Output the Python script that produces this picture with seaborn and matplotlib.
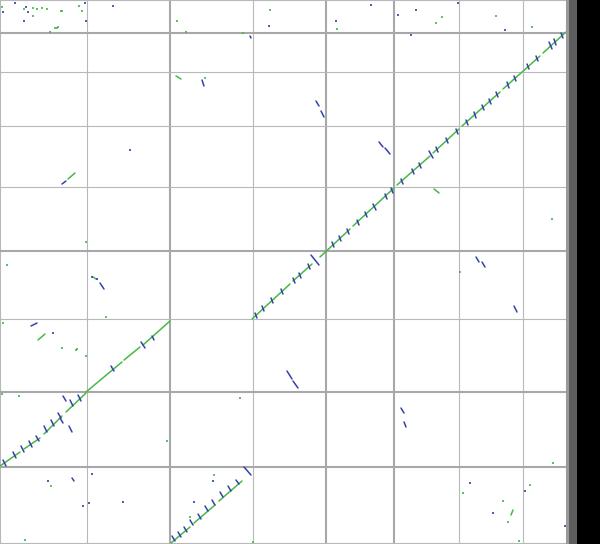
import pandas as pd
import matplotlib
matplotlib.use("Agg")
import matplotlib.pyplot as plt
import seaborn as sns

## sequence boundaries (plot units), query on x, target on y (top = 0)
x_bounds = [0, 86.5, 170, 252.5, 326, 394, 459, 523, 566]
y_bounds = [0, 32.5, 72, 126, 187, 251, 319, 392, 467, 543]
x_thick = [170, 326, 394]
y_thick = [32.5, 251, 392, 467]

## forward alignments (x0, y0, x1, y1)
fwd_segments = [
    # block in first column
    (0, 466, 20, 452), (24, 449, 40, 438), (44, 434, 62, 416), (66, 412, 86, 393),
    # second column diagonal
    (86, 392, 122, 362), (124, 360, 140, 347), (143, 345, 170, 321),
    # third column, bottom row
    (171, 543, 190, 527), (194, 523, 215, 505), (219, 501, 242, 481),
    # long main diagonal
    (252, 319, 290, 284), (293, 281, 312, 264), (320, 257, 350, 229),
    (353, 226, 394, 188), (397, 185, 430, 156), (433, 153, 459, 129),
    (462, 126, 500, 92), (503, 89, 540, 56), (543, 53, 566, 32),
    # small off-diagonal pieces
    (68, 179, 75, 173), (38, 340, 45, 334), (93, 277, 96, 279),
    (434, 189, 439, 193), (511, 515, 513, 510), (176, 76, 181, 79),
]

## reverse alignments (x0, y0, x1, y1)
rev_segments = [
    # ticks on first column block
    (3, 460, 6, 466), (13, 452, 16, 458), (21, 446, 24, 452), (29, 441, 32, 447),
    (36, 436, 39, 441), (44, 426, 47, 432), (51, 420, 54, 426), (58, 413, 61, 418),
    (63, 396, 66, 401), (70, 400, 73, 406), (78, 395, 81, 401),
    (60, 418, 63, 423), (69, 426, 72, 432),
    # ticks on second column diagonal
    (111, 366, 114, 371), (141, 342, 145, 348), (152, 336, 154, 340),
    # ticks on bottom diagonal
    (172, 536, 175, 541), (178, 532, 181, 537), (184, 527, 187, 532),
    (190, 520, 193, 525), (198, 514, 201, 519), (205, 506, 208, 511),
    (212, 500, 215, 505), (220, 492, 223, 497), (228, 486, 231, 491),
    (236, 480, 239, 484), (244, 467, 251, 475),
    # ticks on main diagonal
    (255, 313, 257, 318), (262, 306, 264, 311), (271, 298, 273, 303),
    (281, 289, 283, 294), (293, 278, 295, 283), (299, 273, 301, 278),
    (308, 264, 310, 269), (311, 255, 319, 265), (332, 242, 334, 247),
    (339, 236, 341, 241), (347, 229, 349, 234), (357, 220, 359, 225),
    (365, 212, 367, 217), (373, 204, 376, 210), (385, 194, 387, 199),
    (391, 188, 393, 193), (401, 179, 403, 184), (412, 169, 414, 174),
    (419, 163, 421, 168), (429, 151, 433, 158), (436, 147, 438, 152),
    (446, 138, 448, 143), (456, 129, 458, 134), (466, 120, 468, 125),
    (474, 112, 476, 118), (482, 105, 484, 110), (489, 99, 491, 104),
    (496, 92, 498, 97), (507, 82, 509, 88), (514, 76, 516, 81),
    (527, 64, 529, 69), (536, 56, 538, 61), (549, 42, 552, 49),
    (554, 39, 556, 45), (561, 33, 563, 38),
    # off-diagonal
    (287, 371, 292, 379), (293, 381, 298, 388), (379, 142, 383, 147),
    (385, 148, 390, 154), (316, 101, 319, 106), (321, 111, 324, 117),
    (476, 257, 479, 262), (482, 262, 485, 267), (514, 306, 517, 312),
    (62, 184, 66, 181), (100, 283, 104, 289), (202, 80, 204, 86),
    (401, 408, 404, 413), (404, 422, 406, 427), (72, 478, 74, 481),
    (250, 36, 251, 38), (31, 326, 37, 323),
]

## isolated hits
fwd_dots_x = [2, 33, 37, 42, 47, 24, 33, 62, 79, 82, 55, 58, 50, 57, 61, 177, 186, 243, 270,
              337, 436, 442, 496, 532, 7, 3, 62, 77, 86, 86, 2, 19, 106, 76, 240, 463, 503,
              508, 530, 553, 519, 51, 25, 190, 214, 167, 205, 460, 552, 253]
fwd_dots_y = [7, 8, 9, 8, 9, 9, 16, 11, 6, 11, 28, 27, 32, 28, 11, 21, 32, 33, 10,
              29, 23, 17, 16, 27, 265, 323, 348, 349, 356, 242, 394, 396, 317, 350, 398, 493, 501,
              522, 485, 463, 541, 486, 540, 517, 475, 441, 78, 272, 219, 542]
rev_dots_x = [15, 3, 26, 28, 85, 24, 86, 113, 269, 371, 398, 416, 505, 458, 336, 411, 130,
              53, 97, 48, 92, 89, 83, 123, 470, 493, 525, 565, 213, 194, 92]
rev_dots_y = [3, 12, 7, 12, 3, 21, 21, 6, 26, 5, 15, 10, 30, 3, 21, 35, 150,
              333, 279, 481, 474, 503, 506, 502, 483, 513, 491, 526, 481, 502, 277]

## build long tables for seaborn
rows = []
for strand, segs in (("fwd", fwd_segments), ("rev", rev_segments)):
    for i, (x0, y0, x1, y1) in enumerate(segs):
        rows.append({"seg": f"{strand}{i}", "strand": strand, "x": x0, "y": y0})
        rows.append({"seg": f"{strand}{i}", "strand": strand, "x": x1, "y": y1})
seg_df = pd.DataFrame(rows)

dots_df = pd.concat([
    pd.DataFrame({"x": fwd_dots_x, "y": fwd_dots_y, "strand": "fwd"}),
    pd.DataFrame({"x": rev_dots_x, "y": rev_dots_y, "strand": "rev"}),
])

palette = {"fwd": "#45b845", "rev": "#3442a8"}

sns.set_theme(style="white")
fig = plt.figure(figsize=(6, 5.44), dpi=100)
ax = fig.add_axes([0, 0, 1, 1])
ax.set_facecolor("white")

# grid of sequence boundaries
for xb in x_bounds:
    thick = xb in x_thick
    ax.axvline(xb, color="#a8a8a8" if thick else "#b8b8b8", lw=1.5 if thick else 0.8, zorder=1)
for yb in y_bounds:
    thick = yb in y_thick
    ax.axhline(yb, color="#a8a8a8" if thick else "#b8b8b8", lw=1.5 if thick else 0.8, zorder=1)

sns.lineplot(data=seg_df, x="x", y="y", units="seg", hue="strand", estimator=None,
             sort=False, palette=palette, linewidth=1.1, legend=False, ax=ax, zorder=3)
sns.scatterplot(data=dots_df, x="x", y="y", hue="strand", palette=palette, marker="s",
                s=2.5, linewidth=0, alpha=0.85, legend=False, ax=ax, zorder=3)

# scale strip on the right
ax.axvspan(566, 568.5, color="#9a9a9a", lw=0, zorder=4)
ax.axvspan(568.5, 576.5, color="#5e5e5e", lw=0, zorder=4)
ax.axvspan(576.5, 600, color="black", lw=0, zorder=4)

ax.set_xlim(0, 600)
ax.set_ylim(544, 0)
ax.set_xlabel("")
ax.set_ylabel("")
ax.set_xticks([])
ax.set_yticks([])
for sp in ax.spines.values():
    sp.set_visible(False)

fig.savefig("out.png", dpi=100)
